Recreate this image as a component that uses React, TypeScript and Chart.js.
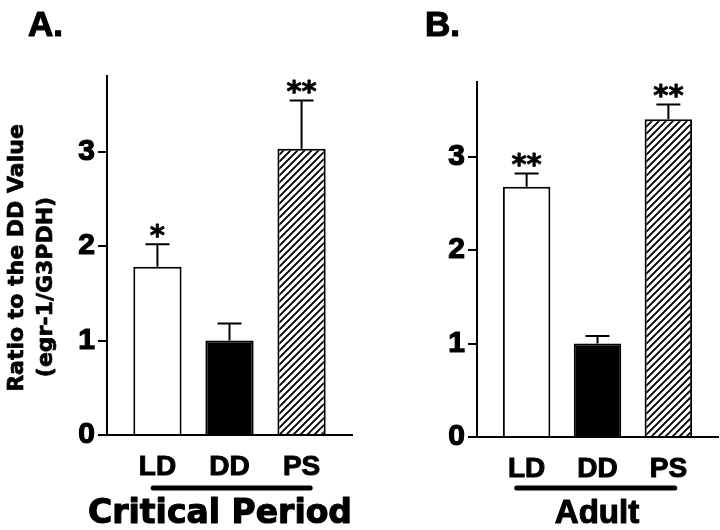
import React, { useEffect, useRef } from "react";
import { Chart, registerables } from "chart.js";

Chart.register(...registerables);

// ---- data ----
const categories = ["LD", "DD", "PS"];
const yTickValues = [0, 1, 2, 3];
const yMax = 3.8;

const criticalValues = [1.78, 1.0, 3.03];
const criticalErrors = [0.24, 0.18, 0.51];
const criticalStars = ["*", "", "**"];

const adultValues = [2.68, 1.0, 3.4];
const adultErrors = [0.14, 0.08, 0.16];
const adultStars = ["**", "", "**"];

const yTitleLines = ["Ratio to the DD Value", "(egr-1/G3PDH)"];

type PanelProps = {
  values: number[];
  errors: number[];
  stars: string[];
  letter: string;
  letterX: number;
  group: string;
  groupFont: string;
  groupX: number;
  span: [number, number];
  yWidth: number;
  padRight: number;
  padTop: number;
  xHeight: number;
  showTitle: boolean;
};

function makeHatch(ctx: CanvasRenderingContext2D) {
  const s = 7;
  const c = document.createElement("canvas");
  c.width = s;
  c.height = s;
  const g = c.getContext("2d")!;
  g.fillStyle = "#fff";
  g.fillRect(0, 0, s, s);
  g.strokeStyle = "#000";
  g.lineWidth = 1.9;
  g.beginPath();
  g.moveTo(-1, s + 1);
  g.lineTo(s + 1, -1);
  g.moveTo(-2, 2);
  g.lineTo(2, -2);
  g.moveTo(s - 2, s + 2);
  g.lineTo(s + 2, s - 2);
  g.stroke();
  return ctx.createPattern(c, "repeat")!;
}

function boldText(c: CanvasRenderingContext2D, t: string, x: number, y: number, w: number) {
  c.fillText(t, x, y);
  c.lineWidth = w;
  c.lineJoin = "round";
  c.strokeText(t, x, y);
}

function Panel(p: PanelProps) {
  const ref = useRef<HTMLCanvasElement>(null);
  useEffect(() => {
    const canvas = ref.current!;
    const ctx = canvas.getContext("2d")!;
    const hatch = makeHatch(ctx);

    const extras = {
      id: "extras",
      beforeDraw(chart: any) {
        const c = chart.ctx;
        c.save();
        c.fillStyle = "#fff";
        c.fillRect(0, 0, chart.width, chart.height);
        c.restore();
      },
      afterDatasetsDraw(chart: any) {
        const c = chart.ctx;
        const meta = chart.getDatasetMeta(0);
        const ys = chart.scales.y;
        c.save();
        c.strokeStyle = "#000";
        c.fillStyle = "#000";
        meta.data.forEach((bar: any, i: number) => {
          const top = ys.getPixelForValue(p.values[i]);
          const et = ys.getPixelForValue(p.values[i] + p.errors[i]);
          c.lineWidth = 2;
          c.beginPath();
          c.moveTo(bar.x, top);
          c.lineTo(bar.x, et);
          c.moveTo(bar.x - 12, et);
          c.lineTo(bar.x + 12, et);
          c.stroke();
          if (p.stars[i]) {
            c.font = "bold 29px 'DejaVu Sans'";
            c.textAlign = "center";
            c.textBaseline = "alphabetic";
            const m = c.measureText(p.stars[i]);
            const center = et - 13.5;
            const base = center + (m.actualBoundingBoxAscent - m.actualBoundingBoxDescent) / 2;
            boldText(c, p.stars[i], bar.x, base, 0.8);
          }
        });
        c.restore();
      },
      afterDraw(chart: any) {
        const c = chart.ctx;
        const xs = chart.scales.x;
        c.save();
        c.fillStyle = "#000";
        c.strokeStyle = "#000";
        // panel letter
        c.font = "bold 35px 'Liberation Sans'";
        c.textAlign = "left";
        c.textBaseline = "alphabetic";
        boldText(c, p.letter, p.letterX, 36, 1.2);
        // underline
        c.lineWidth = 5;
        c.lineCap = "round";
        c.beginPath();
        c.moveTo(xs.getPixelForValue(p.span[0]), 488);
        c.lineTo(xs.getPixelForValue(p.span[1]), 488);
        c.stroke();
        // group label
        c.font = p.groupFont;
        c.textAlign = "center";
        boldText(c, p.group, p.groupX, 523, 1.1);
        // y title
        if (p.showTitle) {
          c.font = "bold 22px 'DejaVu Sans'";
          c.save();
          c.translate(23, 258);
          c.rotate(-Math.PI / 2);
          boldText(c, yTitleLines[0], 0, 0, 0.7);
          c.restore();
          c.save();
          c.translate(52, 287);
          c.rotate(-Math.PI / 2);
          boldText(c, yTitleLines[1], 0, 0, 0.7);
          c.restore();
        }
        c.restore();
      },
    };

    const tickFont = { family: "'Liberation Sans'", size: 28, weight: "bold" as const };

    const chart = new Chart(canvas, {
      type: "bar",
      data: {
        datasets: [
          {
            data: categories.map((_, i) => ({ x: i + 1, y: p.values[i] })),
            backgroundColor: ["#ffffff", "#000000", hatch as any],
            borderColor: "#000",
            borderWidth: 2,
            borderSkipped: "bottom",
            barPercentage: 0.67,
            categoryPercentage: 1,
          },
        ],
      },
      options: {
        animation: false,
        responsive: false,
        devicePixelRatio: 1,
        events: [],
        layout: { padding: { left: 0, right: p.padRight, top: p.padTop, bottom: 0 } },
        plugins: {
          legend: { display: false },
          tooltip: { enabled: false },
          title: { display: false },
        },
        scales: {
          x: {
            type: "linear",
            min: 0.3,
            max: 3.7,
            offset: false,
            afterBuildTicks: (s: any) => {
              s.ticks = categories.map((_, i) => ({ value: i + 1 }));
            },
            afterFit: (s: any) => {
              s.height = p.xHeight;
            },
            grid: { display: false, drawTicks: false },
            border: { display: true, color: "#000", width: 2 },
            ticks: {
              color: "#000",
              font: tickFont,
              padding: 15,
              maxRotation: 0,
              autoSkip: false,
              textStrokeColor: "#000",
              textStrokeWidth: 1,
              callback: (v: any) => categories[Math.round(v) - 1] ?? "",
            },
          },
          y: {
            type: "linear",
            min: 0,
            max: yMax,
            afterBuildTicks: (s: any) => {
              s.ticks = yTickValues.map((v) => ({ value: v }));
            },
            afterFit: (s: any) => {
              s.width = p.yWidth;
            },
            grid: {
              drawOnChartArea: false,
              drawTicks: true,
              tickLength: 9,
              color: "#000",
              lineWidth: 2,
            },
            border: { display: true, color: "#000", width: 2 },
            ticks: {
              color: "#000",
              font: { family: "'Liberation Sans'", size: 30, weight: "bold" as const },
              padding: 3,
              textStrokeColor: "#000",
              textStrokeWidth: 1.2,
              callback: (v: any) => String(v),
            },
          },
        },
      },
      plugins: [extras],
    });
    return () => chart.destroy();
  }, []);
  return <canvas ref={ref} width={360} height={530} style={{ display: "block", width: 360, height: 530 }} />;
}

export default function App() {
  return (
    <div
      style={{
        position: "absolute",
        left: 0,
        top: 0,
        width: 720,
        height: 530,
        background: "#fff",
        display: "flex",
      }}
    >
      <Panel
        values={criticalValues}
        errors={criticalErrors}
        stars={criticalStars}
        letter="A."
        letterX={28}
        group="Critical Period"
        groupFont="bold 33px 'DejaVu Sans'"
        groupX={220}
        span={[0.94, 3.12]}
        yWidth={107}
        padRight={8}
        padTop={76}
        xHeight={95}
        showTitle={true}
      />
      <Panel
        values={adultValues}
        errors={adultErrors}
        stars={adultStars}
        letter="B."
        letterX={65}
        group="Adult"
        groupFont="bold 33px 'Liberation Sans'"
        groupX={237}
        span={[0.86, 3.09]}
        yWidth={117}
        padRight={2}
        padTop={82}
        xHeight={93}
        showTitle={false}
      />
    </div>
  );
}
